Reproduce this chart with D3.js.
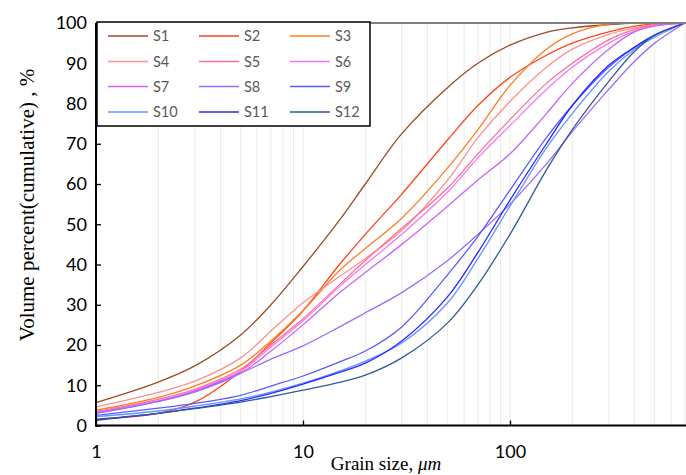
<!DOCTYPE html>
<html><head><meta charset="utf-8">
<script src="https://cdn.jsdelivr.net/npm/d3@7/dist/d3.min.js"></script>
<style>body{margin:0;background:#fff}svg{display:block}</style>
</head><body>
<svg id="c" width="686" height="475"></svg>
<script>
// grain sizes (µm) at which cumulative values were read
const sizes = [1, 2, 3, 5, 7, 10, 15, 20, 30, 50, 70, 100, 150, 200, 300, 400, 500, 700];
const seriesNames = ["S1","S2","S3","S4","S5","S6","S7","S8","S9","S10","S11","S12"];
const S1  = [5.7,10.8,14.8,22.5,30,39.5,51,60,72.5,84,90,94.5,97.7,98.8,99.6,100,100,100];
const S2  = [1.6,3.0,5.8,13.5,20.5,28.5,40,47.5,57.5,71,79.5,86.5,92,95,97.8,99.2,99.8,100];
const S3  = [3.8,7.0,9.8,15,21,28.5,38.5,44,51.5,64,73.5,84.5,93.5,97.3,99.7,100,100,100];
const S4  = [4.6,8.2,11,16.8,23.5,30.5,37,41.5,48.5,61,71.5,80.5,89,93.5,97.2,98.8,99.6,100];
const S5  = [3.5,6.5,9,14,20,26.5,35,41,49,59,67.5,76,85,90,95.8,98.4,99.5,100];
const S6  = [3.3,6.2,8.7,13.5,19.5,26,34.5,40,47.5,58,66.5,74.5,83.5,89,95,98,99.3,100];
const S7  = [3.2,6.0,8.3,13,18.5,25,33,38,45,54.5,61,67.5,77.5,85,93.5,97.8,99.3,100];
const S8  = [3.0,6.0,8.5,13,16.5,19.8,24.5,28,33,41,47.5,55,65,73,83.5,90.5,95,100];
const S9  = [2.5,4.3,5.5,7.5,9.8,12.3,15.8,18.5,24.5,37.5,47,58.5,71.5,79.5,89,94,97,100];
const S10 = [2.2,3.6,4.8,6.6,8.3,10.5,13.5,16,20.5,30.5,41.5,54.5,69,77.5,88,93.5,96.5,100];
const S11 = [1.3,3.0,4.3,6.2,8.0,10.3,13.2,15.5,21,32,43,56,70,79.5,89.5,94,97,100];
const S12 = [1.5,3.0,4.2,5.8,7.2,8.8,10.7,12.5,16.8,25.5,35,47.5,63.5,73.5,85.5,93,97,100];
const seriesValues = [S1,S2,S3,S4,S5,S6,S7,S8,S9,S10,S11,S12];
const yTicks = [0,10,20,30,40,50,60,70,80,90,100];
const xTicks = [1,10,100];
const gridValues = [2,3,4,5,6,7,8,9,10,20,30,40,50,60,70,80,90,100,200,300,400,500,600,700];
const colors = ["#9C4A22","#FF4519","#FF7C1F","#FF9090","#FF7090","#F878F0","#C865F8","#9B6BFF","#5B5BFF","#6495FF","#2626FF","#2F5A9E"];

const svg = d3.select("#c");
const pL = 96, pT = 23, pB = 425.5;
const x = d3.scaleLog().domain([1,700]).range([pL, pL + 207*Math.log10(700)]);
const y = d3.scaleLinear().domain([0,100]).range([pB, pT]);

// vertical gridlines
svg.append("g").selectAll("line").data(gridValues).join("line")
  .attr("x1", d=>x(d)).attr("x2", d=>x(d)).attr("y1", pT).attr("y2", pB)
  .attr("stroke", "#EBEBEB").attr("stroke-width", 1);

// series lines
const line = d3.line().x(d=>x(d[0])).y(d=>Math.max(y(d[1]), pT)).curve(d3.curveCatmullRom.alpha(0.5));
svg.append("g").selectAll("path").data(seriesValues).join("path")
  .attr("d", v => line(sizes.map((s,i)=>[s, v[i]])))
  .attr("fill","none").attr("stroke",(d,i)=>colors[i]).attr("stroke-width",1.3);

// top border
svg.append("line").attr("x1", pL).attr("x2", 686).attr("y1", pT).attr("y2", pT)
  .attr("stroke", "#7F7F7F").attr("stroke-width", 2);

// axes
const yAxis = d3.axisLeft(y).tickValues(yTicks).tickSize(-5).tickPadding(9);
const gy = svg.append("g").attr("transform", `translate(${pL},0)`).call(yAxis);
const xAxis = d3.axisBottom(x).tickValues(xTicks).tickFormat(d3.format("d")).tickSize(-5).tickPadding(20);
const gx = svg.append("g").attr("transform", `translate(0,${pB})`).call(xAxis);
[gx, gy].forEach(g => {
  g.select(".domain").attr("stroke","#000").attr("stroke-width",2);
  g.selectAll(".tick line").attr("stroke","#000").attr("stroke-width",1.3);
  g.selectAll("text").attr("font-family","Lato, 'Open Sans', sans-serif").attr("font-size",18).attr("fill","#000");
});
gy.select(".domain").attr("d", `M0,${pT}V${pB+1}`);
gx.select(".domain").attr("d", `M${pL-1},0H686`);

// axis titles
svg.append("text").attr("x", 386).attr("y", 470).attr("text-anchor","middle")
  .attr("font-family","'Liberation Serif','Times New Roman',serif").attr("font-size",19)
  .html('Grain size, <tspan font-style="italic">μm</tspan>');
svg.append("text").attr("transform","translate(34,205) rotate(-90)").attr("text-anchor","middle")
  .attr("font-family","'Liberation Serif','Times New Roman',serif").attr("font-size",21)
  .text("Volume percent(cumulative) , %");

// legend
const lg = svg.append("g");
lg.append("rect").attr("x",97).attr("y",22).attr("width",273).attr("height",104)
  .attr("fill","#fff").attr("stroke","#000").attr("stroke-width",1.5);
const colX = [108,199,290], rowY = [36,61.5,86.5,112];
seriesNames.forEach((n,i) => {
  const cx = colX[i%3], cy = rowY[Math.floor(i/3)];
  lg.append("line").attr("x1",cx).attr("x2",cx+40).attr("y1",cy).attr("y2",cy)
    .attr("stroke",colors[i]).attr("stroke-width",1.5);
  lg.append("text").attr("x",cx+45).attr("y",cy).attr("dy","0.36em")
    .attr("font-family","Lato, 'Open Sans', sans-serif").attr("font-size",14.5).attr("fill","#595959").text(n);
});
</script>
</body></html>
